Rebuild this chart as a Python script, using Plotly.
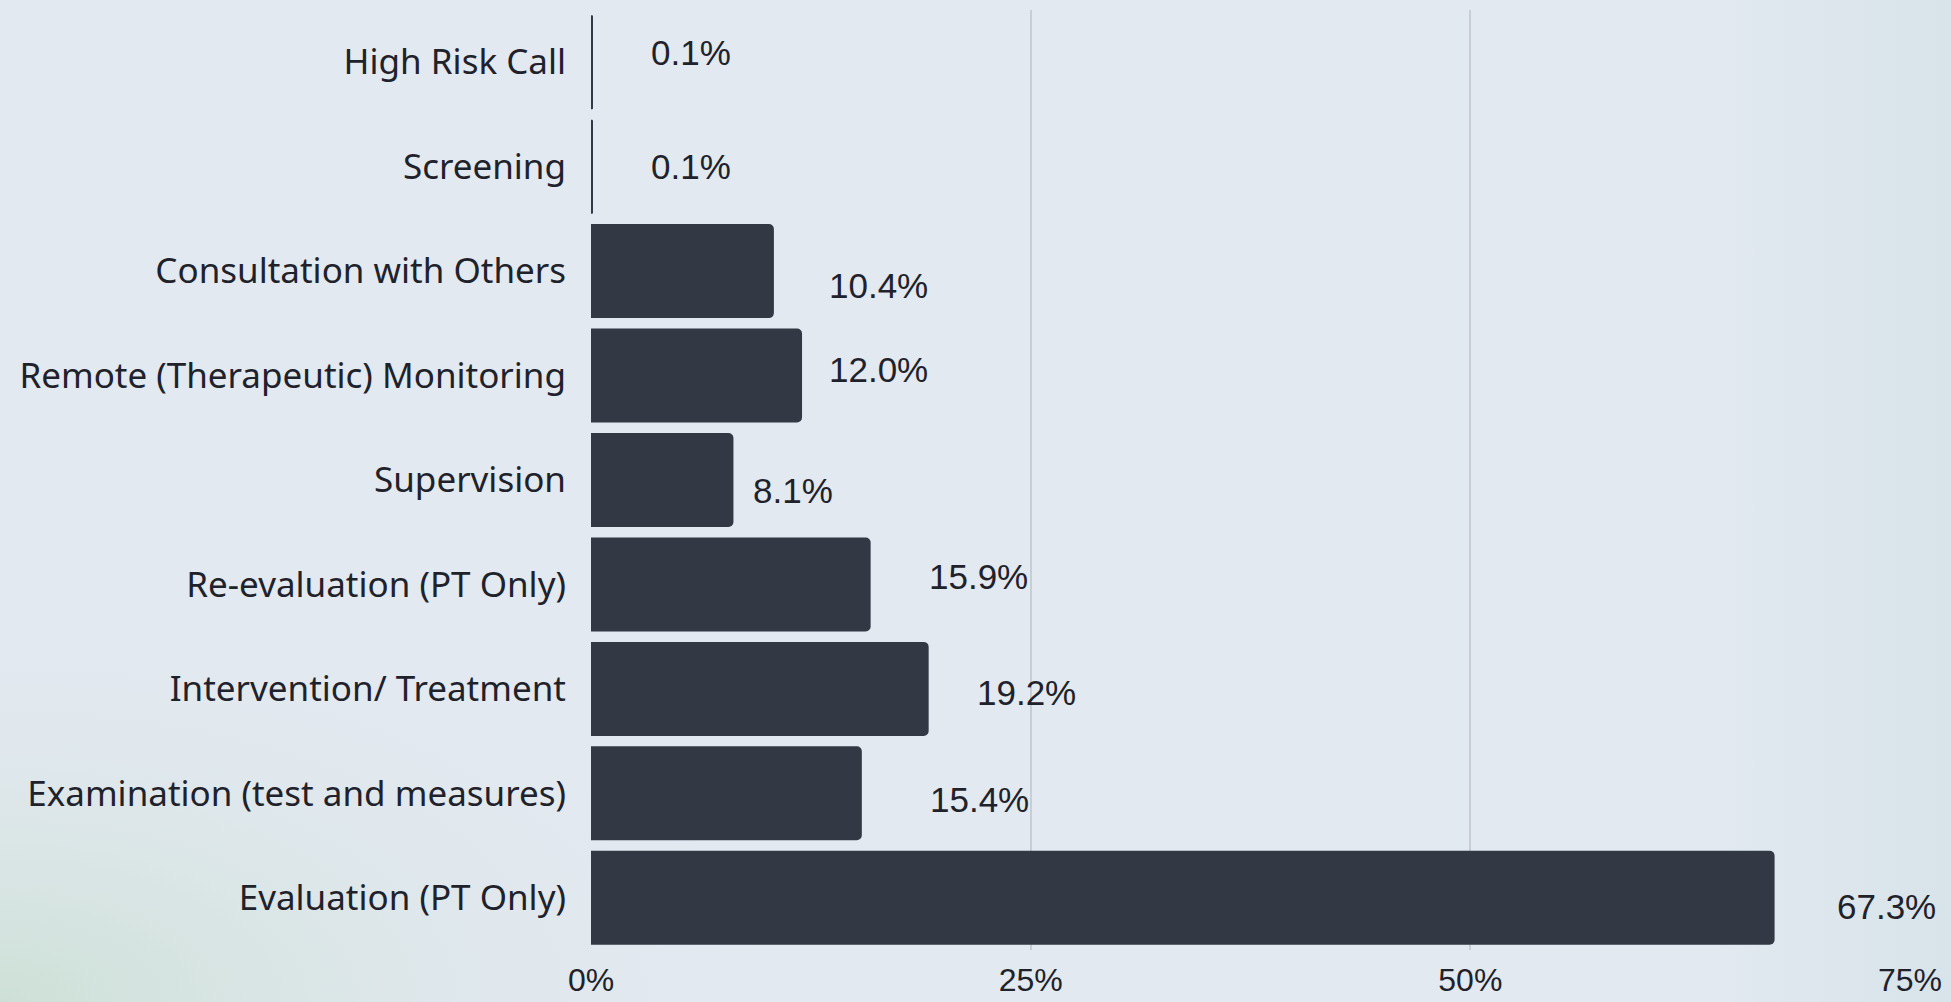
import base64
import plotly.graph_objects as go

# Data (top to bottom as shown)
categories = [
    "High Risk Call",
    "Screening",
    "Consultation with Others",
    "Remote (Therapeutic) Monitoring",
    "Supervision",
    "Re-evaluation (PT Only)",
    "Intervention/ Treatment",
    "Examination (test and measures)",
    "Evaluation (PT Only)",
]
values = [0.1, 0.1, 10.4, 12.0, 8.1, 15.9, 19.2, 15.4, 67.3]
value_labels = ["0.1%", "0.1%", "10.4%", "12.0%", "8.1%", "15.9%", "19.2%", "15.4%", "67.3%"]
tick_vals = [0, 25, 50, 75]
tick_text = ["0%", "25%", "50%", "75%"]

# label offsets (px) from bar end / category center
label_dx = [56, 56, 53, 25, 18, 56, 46, 66, 60]
label_dy = [10, 0, -14, 6, -10, 8, -4, -6, -9]

BAR = "#333845"
TEXT = "#1f222b"

# subtle background gradient (greenish bottom-left, teal right edge)
svg = """<svg xmlns='http://www.w3.org/2000/svg' width='1951' height='1002' viewBox='0 0 1951 1002' preserveAspectRatio='none'>
<defs>
<radialGradient id='g1' cx='0' cy='1' r='0.4' gradientUnits='objectBoundingBox'>
<stop offset='0' stop-color='#cde0d6' stop-opacity='1'/>
<stop offset='1' stop-color='#e2e9f0' stop-opacity='0'/>
</radialGradient>
<linearGradient id='g2' x1='0.88' y1='0' x2='1' y2='0'>
<stop offset='0' stop-color='#d8e3ea' stop-opacity='0'/>
<stop offset='1' stop-color='#d8e3ea' stop-opacity='1'/>
</linearGradient>
</defs>
<rect width='1951' height='1002' fill='#e2e9f0'/>
<rect width='1951' height='1002' fill='url(#g2)'/>
<rect width='1951' height='1002' fill='url(#g1)'/>
</svg>"""
bg_src = "data:image/svg+xml;base64," + base64.b64encode(svg.encode()).decode()

ML, MR, MT, MB = 591, 41, 10, 52
W, H = 1951, 1002
PW, PH = W - ML - MR, H - MT - MB

fig = go.Figure()
fig.add_trace(go.Bar(
    x=values, y=categories, orientation="h",
    marker=dict(color=BAR, cornerradius=5, line=dict(width=0)),
    width=0.90, hoverinfo="skip",
))

for c, v, t, dx, dy in zip(categories, values, value_labels, label_dx, label_dy):
    fig.add_annotation(
        x=v, y=c, xref="x", yref="y", text=t, showarrow=False,
        xanchor="left", yanchor="middle", xshift=dx, yshift=dy,
        font=dict(family="Liberation Sans", size=35, color=TEXT),
    )

# background stretched over the whole paper
fig.add_layout_image(
    source=bg_src, xref="paper", yref="paper",
    x=-ML / PW, y=1 + MT / PH, sizex=W / PW, sizey=H / PH,
    xanchor="left", yanchor="top", sizing="stretch", layer="below",
)

fig.update_layout(
    width=W, height=H,
    margin=dict(l=ML, r=MR, t=MT, b=MB, autoexpand=False),
    paper_bgcolor="#e2e9f0",
    plot_bgcolor="rgba(0,0,0,0)",
    showlegend=False,
    bargap=0.10,
)
fig.update_xaxes(
    range=[0, 75], tickvals=tick_vals, ticktext=tick_text,
    showgrid=True, gridcolor="#c9ced6", gridwidth=1.5,
    zeroline=False, showline=False, ticks="",
    ticklabelstandoff=8, automargin=False,
    tickfont=dict(family="Liberation Sans", size=32, color=TEXT),
    fixedrange=True,
)
fig.update_yaxes(
    categoryorder="array", categoryarray=categories, autorange="reversed",
    showgrid=False, zeroline=False, showline=False, ticks="",
    ticklabelstandoff=24, automargin=False,
    tickfont=dict(family="Noto Sans", size=35, color=TEXT),
    fixedrange=True,
)

fig.write_html(
    "out.html",
    config={"displayModeBar": False},
    post_script="document.body.style.margin='0';document.body.style.overflow='hidden';document.body.style.background='#e2e9f0';",
)
